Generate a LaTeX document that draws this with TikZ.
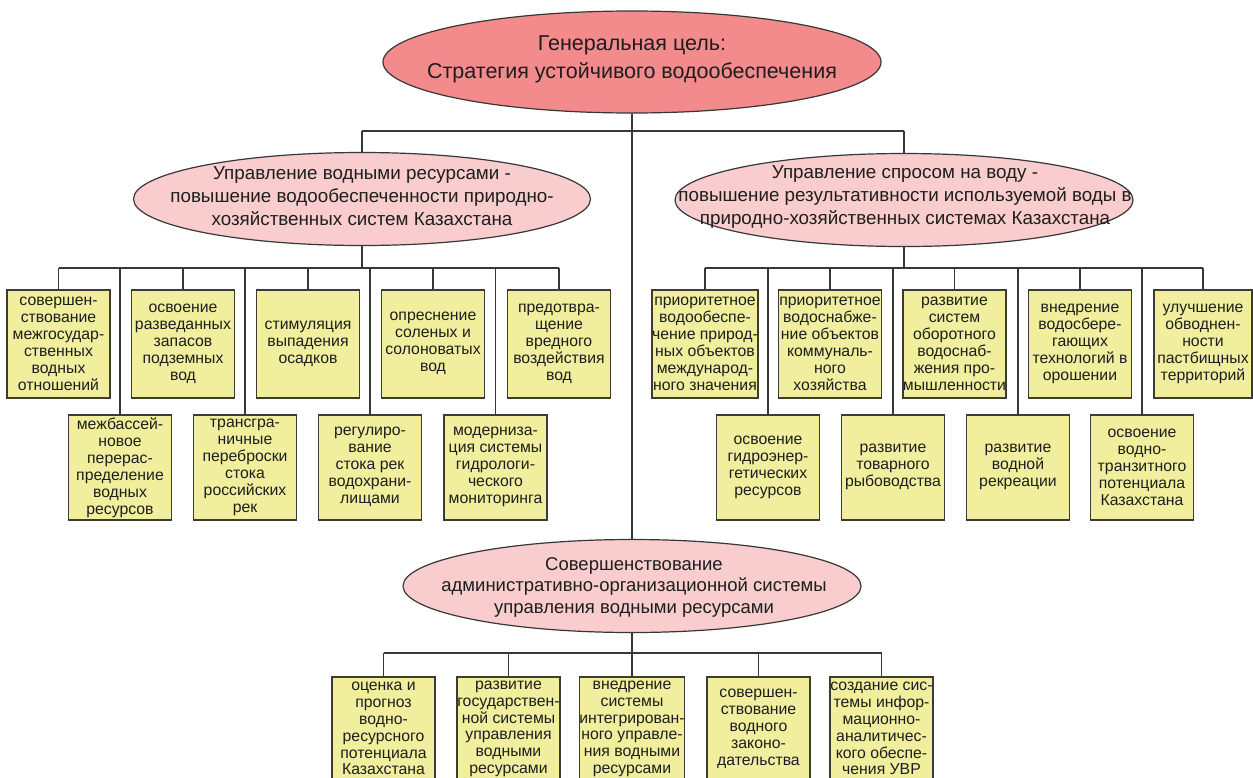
\documentclass[tikz,border=0pt]{standalone}
\usepackage{fontspec}
\setmainfont{Liberation Sans}
\usetikzlibrary{shapes.geometric}
\definecolor{topfill}{RGB}{243,138,140}
\definecolor{midfill}{RGB}{249,205,205}
\definecolor{boxfill}{RGB}{241,239,158}
\definecolor{boxline}{RGB}{60,60,50}
\definecolor{conline}{RGB}{55,55,55}
\definecolor{txt}{RGB}{30,30,30}
\tikzset{
 goalell/.style={ellipse, draw=conline, line width=1.2pt, fill=topfill, minimum width=498, minimum height=102, inner sep=0},
 subell/.style={ellipse, draw=conline, line width=1.2pt, fill=midfill, minimum width=457, minimum height=93, inner sep=0},
 elltext/.style={align=center, text=txt, inner sep=0},
 leaf/.style={rectangle, draw=boxline, line width=1.6pt, fill=boxfill, minimum width=103, minimum height=108, align=center, inner sep=0, text=txt, anchor=north, font=\fontsize{15.8}{17}\selectfont},
 leaflow/.style={leaf, minimum height=105},
 leafbot/.style={leaf, minimum height=104, font=\fontsize{15.8}{16.8}\selectfont},
 conn/.style={draw=conline, line width=1.3pt},
}
\begin{document}
\begin{tikzpicture}[x=1pt,y=-1pt]
\clip (0,0) rectangle (1253,777);
\fill[white] (0,0) rectangle (1253,777);

% ellipses
\node[goalell] (goal) at (632,62) {};
\node[elltext, font=\fontsize{21.5}{28}\selectfont] (goalT) at (632,59) {Генеральная цель:\\Стратегия устойчивого водообеспечения};

\node[subell] (wr) at (362,199) {};
\node[elltext, font=\fontsize{18.8}{23}\selectfont] (wrT) at (362,196) {Управление водными ресурсами -\\повышение водообеспеченности природно-\\хозяйственных систем Казахстана};

\node[subell, minimum width=458] (wd) at (904,200) {};
\node[elltext, font=\fontsize{18.8}{23}\selectfont] (wdT) at (905,197) {Управление спросом на воду -\\повышение результативности используемой воды в\\природно-хозяйственных системах Казахстана};

\node[subell, minimum width=458] (adm) at (632,586) {};
\node[elltext, font=\fontsize{18.5}{21.5}\selectfont] (admT) at (634,587) {Совершенствование\\административно-организационной системы\\управления водными ресурсами};

% left group
\node[leaf] (L1) at (58.5,289) {совершен-\\ствование\\межгосудар-\\ственных\\водных\\отношений};
\node[leaflow] (L2) at (120,414) {межбассей-\\новое\\перерас-\\пределение\\водных\\ресурсов};
\node[leaf] (L3) at (183,289) {освоение\\разведанных\\запасов\\подземных\\вод};
\node[leaflow] (L4) at (245,414) {трансгра-\\ничные\\переброски\\стока\\российских\\рек};
\node[leaf] (L5) at (308,289) {стимуляция\\выпадения\\осадков};
\node[leaflow] (L6) at (370,414) {регулиро-\\вание\\стока рек\\водохрани-\\лищами};
\node[leaf] (L7) at (433,289) {опреснение\\соленых и\\солоноватых\\вод};
\node[leaflow] (L8) at (495.5,414) {модерниза-\\ция системы\\гидрологи-\\ческого\\мониторинга};
\node[leaf] (L9) at (559,289) {предотвра-\\щение\\вредного\\воздействия\\вод};

% right group
\node[leaf] (R1) at (705,289) {приоритетное\\водообеспе-\\чение природ-\\ных объектов\\международ-\\ного значения};
\node[leaflow] (R2) at (768,414) {освоение\\гидроэнер-\\гетических\\ресурсов};
\node[leaf] (R3) at (830,289) {приоритетное\\водоснабже-\\ние объектов\\коммуналь-\\ного\\хозяйства};
\node[leaflow] (R4) at (893,414) {развитие\\товарного\\рыбоводства};
\node[leaf] (R5) at (954.5,289) {развитие\\систем\\оборотного\\водоснаб-\\жения про-\\мышленности};
\node[leaflow] (R6) at (1018,414) {развитие\\водной\\рекреации};
\node[leaf] (R7) at (1080,289) {внедрение\\водосбере-\\гающих\\технологий в\\орошении};
\node[leaflow] (R8) at (1142,414) {освоение\\водно-\\транзитного\\потенциала\\Казахстана};
\node[leaf, minimum width=98] (R9) at (1203,289) {улучшение\\обводнен-\\ности\\пастбищных\\территорий};

% bottom group
\node[leafbot] (B1) at (383.5,676) {оценка и\\прогноз\\водно-\\ресурсного\\потенциала\\Казахстана};
\node[leafbot] (B2) at (508.5,676) {развитие\\государствен-\\ной системы\\управления\\водными\\ресурсами};
\node[leafbot] (B3) at (632,676) {внедрение\\системы\\интегрирован-\\ного управле-\\ния водными\\ресурсами};
\node[leafbot] (B4) at (758.5,676) {совершен-\\ствование\\водного\\законо-\\дательства};
\node[leafbot] (B5) at (881.5,676) {создание сис-\\темы инфор-\\мационно-\\аналитичес-\\кого обеспе-\\чения УВР};

% connectors
\coordinate (tbus) at (632,131);
\coordinate (lbus) at (362,268);
\coordinate (rbus) at (904,268);
\coordinate (bbus) at (632,653);

\draw[conn] (goal.south) -- (adm.north);
\draw[conn] (wr.north |- tbus) -- (wd.north |- tbus);
\draw[conn] (wr.north |- tbus) -- (wr.north);
\draw[conn] (wd.north |- tbus) -- (wd.north);

\draw[conn] (wr.south) -- (lbus);
\draw[conn] (L1.north |- lbus) -- (L9.north |- lbus);
\foreach \n in {L1,L2,L3,L4,L5,L6,L7,L8,L9} \draw[conn] (\n.north |- lbus) -- (\n.north);

\draw[conn] (wd.south) -- (rbus);
\draw[conn] (R1.north |- rbus) -- (R9.north |- rbus);
\foreach \n in {R1,R2,R3,R4,R5,R6,R7,R8,R9} \draw[conn] (\n.north |- rbus) -- (\n.north);

\draw[conn] (adm.south) -- (bbus);
\draw[conn] (B1.north |- bbus) -- (B5.north |- bbus);
\foreach \n in {B1,B2,B3,B4,B5} \draw[conn] (\n.north |- bbus) -- (\n.north);
\end{tikzpicture}
\end{document}
